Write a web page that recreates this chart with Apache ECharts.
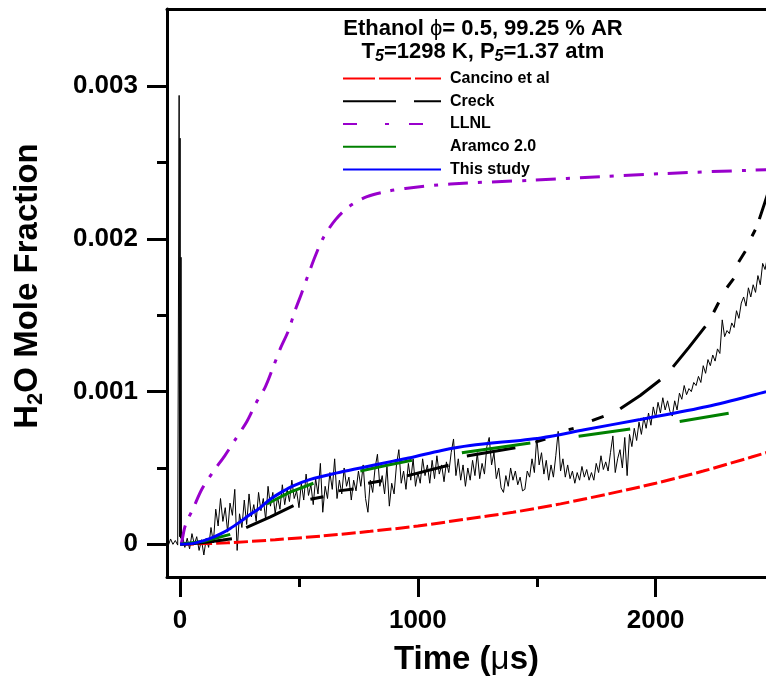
<!DOCTYPE html>
<html>
<head>
<meta charset="utf-8">
<script src="https://cdn.jsdelivr.net/npm/echarts@6/dist/echarts.min.js"></script>
<style>html,body{margin:0;padding:0;background:#fff}#c{width:766px;height:681px}</style>
</head>
<body>
<div id="c"></div>
<script>
// ---- axes ----
const xMajorTicks = [0, 1000, 2000];
const xMinorTicks = [500, 1500, 2500];
const xTickLabels = ['0', '1000', '2000'];
const yMajorTicks = [0, 1000, 2000, 3000];          // H2O mole fraction x 1e6
const yMinorTicks = [500, 1500, 2500];
const yTickLabels = ['0', '0.001', '0.002', '0.003'];

// ---- experimental trace (mole fraction x 1e6), regular sampling ----
const expStart = -50, expStep = 10;
const expVals = [
 -10,35,0,25,-5,
 10,60,-20,40,-30,70,0,50,-40,30,
 -70,40,-20,110,10,230,120,300,150,240,
 80,270,190,360,-40,200,110,290,130,330,
 180,260,150,340,220,300,160,380,250,340,
 200,310,230,390,260,360,280,420,300,350,
 240,400,290,460,320,390,260,430,330,530,
 210,380,300,470,360,560,300,420,330,500,
 380,440,290,420,350,480,380,520,300,210,
 420,340,500,590,380,450,330,510,250,400,
 330,520,620,400,480,360,530,420,560,380,
 470,400,560,450,520,400,550,430,580,460,
 520,410,540,470,600,690,450,560,420,520,
 380,500,420,550,450,600,430,530,460,640,
 700,520,600,430,500,370,340,450,380,500,
 420,480,390,440,350,360,480,440,560,470,
 700,520,600,460,550,420,520,440,580,740,
 480,560,440,520,430,480,400,470,420,510,
 440,490,420,470,420,530,470,580,490,540,
 480,600,710,470,560,620,500,700,450,720,
 640,760,680,800,720,830,760,860,780,900,
 830,930,860,960,880,940,870,840,940,880,
 990,950,1040,980,1020,1000,1060,1040,1100,1060,
 1170,1120,1210,1170,1240,1200,1280,1250,1470,1360,
 1400,1380,1450,1420,1530,1480,1580,1620,1560,1680,
 1620,1700,1650,1760,1700,1840,1800,1880,1850
];
// initial spike of the experimental trace
const spikeT = [-6, -4, -2, 0, 2, 4, 6];
const spikeV = [0, 2940, 50, 2660, 40, 1880, 20];

// ---- model curves [time us, mole fraction x 1e6] ----
const cancino = [[0,0],[200,10],[400,30],[600,55],[800,85],[1000,120],[1200,165],[1400,210],[1600,265],[1800,330],[2000,400],[2200,480],[2400,570],[2550,640]];
const creckSegments = [
 [[0,0],[60,5],[120,15],[180,28],[218,37]],
 [[278,110],[380,180],[477,253]],
 [[548,295],[603,312]],
 [[666,350],[730,362]],
 [[791,400],[849,416]],
 [[954,448],[1129,518]],
 [[1206,578],[1410,632]],
 [[1494,669],[1536,690]],
 [[1634,751],[1655,758]],
 [[1732,810],[1781,838]],
 [[1851,888],[1935,975],[2019,1076]],
 [[2073,1162],[2140,1290],[2209,1427]],
 [[2244,1520],[2265,1584]],
 [[2300,1682],[2328,1740]],
 [[2349,1849],[2377,1920]],
 [[2405,2018],[2419,2060]],
 [[2436,2130],[2470,2290]]
];
const llnl = [[0,0],[5,4],[22,123],[57,242],[92,362],[141,480],[187,578],[232,686],[281,805],[319,924],[358,1030],[389,1150],[421,1280],[456,1400],[481,1520],[510,1640],[540,1770],[569,1890],[603,2010],[653,2125],[709,2210],[786,2277],[877,2314],[947,2331],[1137,2360],[1487,2385],[1767,2407],[2047,2429],[2398,2450],[2550,2455]];
const aramcoSegments = [
 [[0,0],[100,20],[211,65]],
 [[365,264],[460,340],[561,400]],
 [[758,480],[870,518],[975,550]],
 [[1185,600],[1473,664]],
 [[1676,708],[1893,755]],
 [[2101,805],[2307,859]]
];
const thisStudy = [[0,0],[60,8],[127,39],[170,68],[211,104],[250,145],[290,190],[337,240],[379,295],[430,345],[476,383],[548,425],[661,468],[758,500],[896,545],[968,567],[1100,615],[1220,647],[1517,697],[1700,750],[1935,818],[2217,903],[2465,1000],[2550,1035]];

const seriesNames = ['Cancino et al', 'Creck', 'LLNL', 'Aramco 2.0', 'This study'];

// ---- build data ----
const expData = [];
expVals.forEach((v, i) => { const t = expStart + i * expStep; if (t < spikeT[0]) expData.push([t, v]); });
spikeT.forEach((t, i) => expData.push([t, spikeV[i]]));
expVals.forEach((v, i) => { const t = expStart + i * expStep; if (t > spikeT[spikeT.length - 1]) expData.push([t, v]); });
function joinSegments(segs) {
  const out = [];
  segs.forEach((s, k) => { if (k > 0) out.push([s[0][0], null]); s.forEach(p => out.push(p)); });
  return out;
}

const FONT = '"Liberation Sans", Arial, sans-serif';
const X_MIN = -55, X_MAX = 2464, Y_MIN = -214, Y_MAX = 3506;
const axisCommon = { type: 'value', splitLine: { show: false }, gridIndex: 0 };

const chart = echarts.init(document.getElementById('c'), null, { renderer: 'canvas' });
chart.setOption({
  animation: false,
  backgroundColor: '#fff',
  grid: { left: 167, right: 0, top: 9, bottom: 99, containLabel: false },
  xAxis: [
    Object.assign({}, axisCommon, {
      min: X_MIN, max: X_MAX, position: 'bottom',
      axisLine: { onZero: false, lineStyle: { color: '#000', width: 3 } },
      axisTick: { customValues: xMajorTicks, length: 20, lineStyle: { color: '#000', width: 3 } },
      axisLabel: { customValues: xMajorTicks, color: '#000', fontSize: 26, fontWeight: 'bold', fontFamily: FONT, margin: 31,
        formatter: v => xTickLabels[xMajorTicks.indexOf(Math.round(v))] },
      name: '{a|Time (}{m|μ}{a|s)}', nameLocation: 'middle', nameGap: 66,
      nameTextStyle: { padding: [0, 0, 0, 0], rich: { a: { fontSize: 33, fontWeight: 'bold', fontFamily: FONT, color: '#000' }, m: { fontSize: 33, fontWeight: 'normal', fontFamily: FONT, color: '#000' } } }
    }),
    Object.assign({}, axisCommon, {
      min: X_MIN, max: X_MAX, position: 'bottom',
      axisLine: { show: false, onZero: false },
      axisTick: { customValues: xMinorTicks, length: 10, lineStyle: { color: '#000', width: 3 } },
      axisLabel: { show: false }
    }),
    Object.assign({}, axisCommon, {
      min: X_MIN, max: X_MAX, position: 'top',
      axisLine: { onZero: false, lineStyle: { color: '#000', width: 3 } },
      axisTick: { show: false }, axisLabel: { show: false }
    })
  ],
  yAxis: [
    Object.assign({}, axisCommon, {
      min: Y_MIN, max: Y_MAX, position: 'left',
      axisLine: { onZero: false, lineStyle: { color: '#000', width: 3 } },
      axisTick: { customValues: yMajorTicks, length: 20, lineStyle: { color: '#000', width: 3 } },
      axisLabel: { customValues: yMajorTicks, color: '#000', fontSize: 26, fontWeight: 'bold', fontFamily: FONT, margin: 29,
        formatter: v => yTickLabels[yMajorTicks.indexOf(Math.round(v))] },
      name: '{a|H}{s|2}{a|O Mole Fraction}', nameLocation: 'middle', nameRotate: 90, nameGap: 120,
      nameTextStyle: { padding: [0, 0, 0, 14], rich: {
        a: { fontSize: 33, fontWeight: 'bold', fontFamily: FONT, color: '#000', lineHeight: 38 },
        s: { fontSize: 22, fontWeight: 'bold', fontFamily: FONT, color: '#000', lineHeight: 22, verticalAlign: 'bottom' } } }
    }),
    Object.assign({}, axisCommon, {
      min: Y_MIN, max: Y_MAX, position: 'left',
      axisLine: { show: false, onZero: false },
      axisTick: { customValues: yMinorTicks, length: 10, lineStyle: { color: '#000', width: 3 } },
      axisLabel: { show: false }
    })
  ],
  legend: {
    orient: 'vertical', left: 342, top: 70.5, padding: 0, itemWidth: 98, itemHeight: 14, itemGap: 6.75,
    itemStyle: { opacity: 0 },
    textStyle: { fontSize: 16, fontWeight: 'bold', fontFamily: FONT, color: '#000', lineHeight: 14, padding: [0, 0, 0, 4] },
    data: [
      { name: seriesNames[0], lineStyle: { type: [32, 4] } },
      { name: seriesNames[1], lineStyle: { type: [53, 18] } },
      { name: seriesNames[2], lineStyle: { type: [14, 28, 4, 20] } },
      { name: seriesNames[3], lineStyle: { type: [53, 200] } },
      { name: seriesNames[4] }
    ]
  },
  graphic: [
    { type: 'text', x: 483, y: 29, style: { text: '{b|Ethanol }{p|ϕ}{b|= 0.5, 99.25 % AR}', align: 'center', verticalAlign: 'middle',
        rich: { b: { fontSize: 22, fontWeight: 'bold', fontFamily: FONT, fill: '#000' }, p: { fontSize: 22, fontWeight: 'normal', fontFamily: FONT, fill: '#000' } } } },
    { type: 'text', x: 483, y: 52, style: { text: '{b|T}{s|5}{b|=1298 K, P}{s|5}{b|=1.37 atm}', align: 'center', verticalAlign: 'middle',
        rich: { b: { fontSize: 22, fontWeight: 'bold', fontFamily: FONT, fill: '#000', lineHeight: 26 },
                s: { fontSize: 16, fontStyle: 'italic', fontWeight: 'bold', fontFamily: FONT, fill: '#000', lineHeight: 16, verticalAlign: 'bottom' } } } }
  ],
  series: [
    { name: 'Experiment', type: 'line', data: expData, symbol: 'none', lineStyle: { color: '#000', width: 1 }, z: 1 },
    { name: seriesNames[0], type: 'line', data: cancino, symbol: 'none', smooth: 0.3, color: '#ff0000', lineStyle: { color: '#ff0000', width: 3, type: [14, 4] }, z: 3 },
    { name: seriesNames[1], type: 'line', data: joinSegments(creckSegments), symbol: 'none', connectNulls: false, color: '#000', lineStyle: { color: '#000', width: 3 }, z: 3 },
    { name: seriesNames[2], type: 'line', data: llnl, symbol: 'none', smooth: 0.3, color: '#9900cc', lineStyle: { color: '#9900cc', width: 3, type: [20, 10, 4, 10] }, z: 3 },
    { name: seriesNames[3], type: 'line', data: joinSegments(aramcoSegments), symbol: 'none', connectNulls: false, color: '#008000', lineStyle: { color: '#008000', width: 3 }, z: 3 },
    { name: seriesNames[4], type: 'line', data: thisStudy, symbol: 'none', smooth: 0.3, color: '#0000ff', lineStyle: { color: '#0000ff', width: 3 }, z: 4 }
  ]
});
</script>
</body>
</html>
